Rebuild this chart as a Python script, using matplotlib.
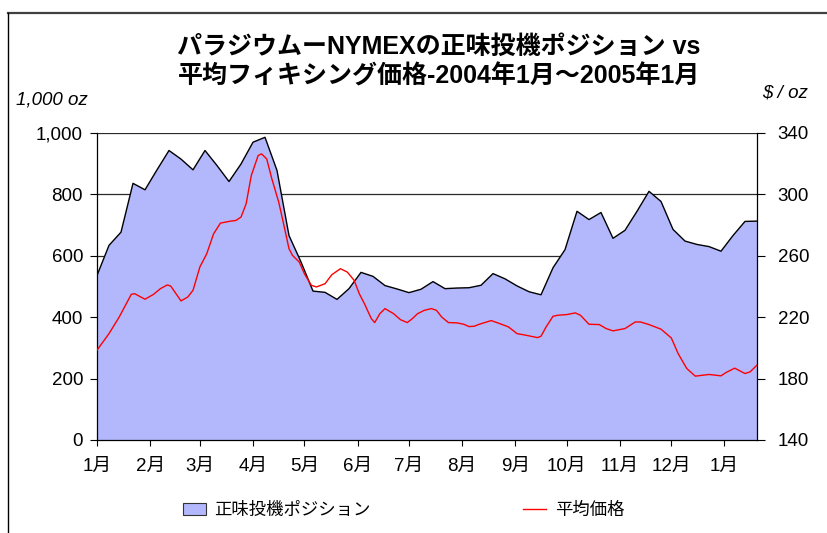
import matplotlib
matplotlib.use('Agg')
import matplotlib.pyplot as plt
import numpy as np
import pandas as pd
from matplotlib.patches import Patch
from matplotlib.lines import Line2D
from matplotlib.ticker import FuncFormatter

plt.rcParams['font.family'] = ['Liberation Sans', 'Noto Sans CJK JP', 'DejaVu Sans']

# ---------------- data ----------------
title = 'パラジウムーNYMEXの正味投機ポジション vs\n平均フィキシング価格-2004年1月～2005年1月'
left_unit = '1,000 oz'
right_unit = r'\$ / oz'
series_pos_label = '正味投機ポジション'
series_price_label = '平均価格'
month_labels = ['1月', '2月', '3月', '4月', '5月', '6月', '7月', '8月', '9月',
                '10月', '11月', '12月', '1月']

# weekly net speculative position (1,000 oz), starting 2004-01-01
positions = [536, 634, 677, 836, 815, 880, 943, 915, 880, 943, 894, 842, 899, 970,
             986, 878, 666, 580, 485, 481, 458, 493, 546, 533, 503, 492, 480, 491,
             516, 493, 495, 496, 504, 542, 525, 502, 483, 473, 561, 620, 745, 718,
             741, 657, 683, 745, 810, 777, 686, 648, 637, 630, 615, 666, 712, 713]

# average fixing price ($/oz): day offset from 2004-01-01 and value
price_days = [0, 7, 13, 20, 22, 28, 33, 37, 41, 43, 49, 53, 56, 60, 64, 68, 72, 78, 81,
              84, 87, 90, 94, 96, 99, 102, 106, 109, 112, 114, 118, 121, 125, 128, 133,
              137, 142, 146, 150, 153, 156, 160, 162, 165, 168, 173, 177, 181, 184, 187,
              191, 195, 198, 201, 205, 210, 214, 217, 220, 223, 230, 235, 240, 245, 250,
              257, 259, 262, 266, 269, 274, 279, 282, 287, 293, 297, 301, 308, 314, 317,
              322, 329, 335, 339, 344, 349, 357, 364, 367, 372, 378, 381, 385]
price_vals = [198.5, 209.3, 220.2, 234.9, 235.3, 231.7, 234.9, 238.6, 241.0, 240.3,
              230.6, 233.2, 237.5, 252.7, 261.3, 274.3, 281.3, 282.6, 283.0, 285.2,
              293.9, 312.3, 325.3, 326.4, 323.1, 310.1, 295.0, 280.0, 264.6, 260.3,
              255.9, 248.3, 240.8, 239.7, 241.8, 247.7, 251.6, 249.4, 244.0, 235.3,
              228.8, 219.1, 216.5, 222.3, 225.6, 222.3, 218.4, 216.5, 219.1, 222.3,
              224.5, 225.6, 224.5, 220.2, 216.5, 216.3, 215.4, 213.9, 214.1, 215.4,
              217.8, 215.8, 213.7, 209.3, 208.3, 206.7, 207.6, 213.7, 220.6, 221.3,
              221.7, 222.8, 221.3, 215.4, 215.2, 212.6, 211.1, 212.6, 216.9, 216.9,
              215.2, 212.2, 206.5, 196.3, 186.6, 181.6, 182.7, 181.8, 184.0, 186.8,
              183.3, 184.4, 188.8]

left_ticks = [0, 200, 400, 600, 800, 1000]
right_ticks = [140, 180, 220, 260, 300, 340]

FILL = '#B3B8FD'

# ---------------- figure ----------------
W, H = 827, 533
fig = plt.figure(figsize=(W / 100, H / 100), dpi=100)
ax = fig.add_axes([97 / W, 1 - 440 / H, 660 / W, 307 / H])

start = pd.Timestamp('2004-01-01')
pos_x = np.arange(len(positions)) * 7
month_x = [(d - start).days for d in pd.date_range('2004-01-01', '2005-01-01', freq='MS')]

ax.fill_between(pos_x, positions, 0, facecolor=FILL, edgecolor='none', zorder=2)
ax.plot(pos_x, positions, color='black', lw=1.0, zorder=3)
ax.set_xlim(0, pos_x[-1])
ax.set_ylim(0, 1000)
ax.set_yticks(left_ticks)
ax.yaxis.set_major_formatter(FuncFormatter(lambda v, p: f'{v:,.0f}'))
ax.set_xticks(month_x)
ax.set_xticklabels(month_labels)
ax.set_axisbelow(True)
ax.grid(axis='y', color='#2a2a2a', lw=0.9, zorder=0)
ax.grid(axis='x', visible=False)
ax.spines['top'].set_visible(False)
ax.spines['right'].set_visible(False)
for s in ('left', 'bottom'):
    ax.spines[s].set_color('black')
    ax.spines[s].set_linewidth(0.9)
ax.tick_params(axis='y', direction='out', length=5, width=0.8, labelsize=13.5, pad=5)
ax.tick_params(axis='x', direction='out', length=4, width=0.8, labelsize=13.5, pad=9)

ax2 = ax.twinx()
ax2.plot(price_days, price_vals, color='#FF0000', lw=1.0, zorder=4)
ax2.set_ylim(140, 340)
ax2.set_yticks(right_ticks)
for s in ('top', 'left', 'bottom'):
    ax2.spines[s].set_visible(False)
ax2.spines['right'].set_color('black')
ax2.spines['right'].set_linewidth(0.9)
ax2.tick_params(axis='y', direction='out', length=6, width=0.8, labelsize=13.5, pad=9)

# title and units
fig.text(439 / W, 1 - 62 / H, title, ha='center', va='center', fontsize=18,
         fontweight='bold', linespacing=1.3)
fig.text(16 / W, 1 - 100 / H, left_unit, ha='left', va='center', fontsize=13.5,
         style='italic')
fig.text(808 / W, 1 - 93 / H, right_unit, ha='right', va='center', fontsize=13.5,
         style='italic')

# legend
handles = [Patch(facecolor=FILL, edgecolor='#333333', lw=0.8, label=series_pos_label),
           Line2D([], [], color='#FF0000', lw=1.0, label=series_price_label)]
fig.legend(handles=handles, loc='center left', bbox_to_anchor=(183 / W, 1 - 510 / H),
           ncol=2, frameon=False, fontsize=12.5, handlelength=1.3, handleheight=0.7,
           handletextpad=0.5, columnspacing=8.8, borderpad=0, borderaxespad=0)

# outer frame lines
fig.add_artist(Line2D([8 / W, 1], [1 - 13 / H, 1 - 13 / H], transform=fig.transFigure,
                      color='#404040', lw=1.6))
fig.add_artist(Line2D([8 / W, 8 / W], [0, 1 - 13 / H], transform=fig.transFigure,
                      color='black', lw=1.0))

fig.savefig('out.png', dpi=100)
